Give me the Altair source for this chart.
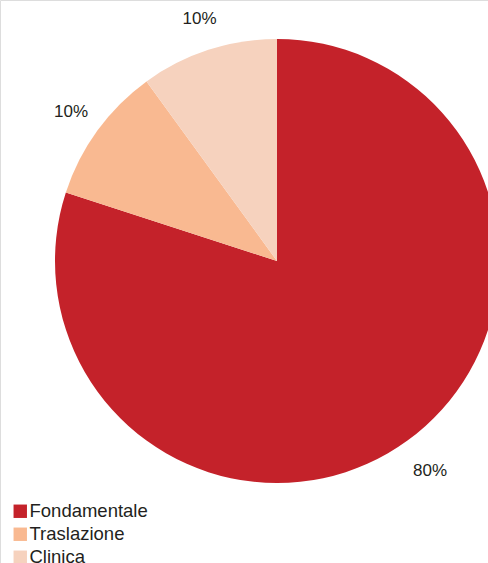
import altair as alt
import pandas as pd

categories = ["Fondamentale", "Traslazione", "Clinica"]
values = [80, 10, 10]
labels = ["80%", "10%", "10%"]
colors = ["#c4222a", "#f9b991", "#f6d2be"]

df = pd.DataFrame({"categoria": categories, "valore": values, "etichetta": labels,
                   "ordine": list(range(len(categories)))})

base = alt.Chart(df).encode(
    theta=alt.Theta("valore:Q", stack=True),
    order=alt.Order("ordine:Q"),
)

arc = base.mark_arc(outerRadius=222, stroke=None).encode(
    x=alt.value(277),
    y=alt.value(261),
    color=alt.Color(
        "categoria:N",
        sort=categories,
        scale=alt.Scale(domain=categories, range=colors),
        legend=alt.Legend(
            title=None,
            orient="none",
            legendX=11,
            legendY=502,
            padding=0,
            symbolType="square",
            symbolSize=180,
            symbolStrokeWidth=0,
            labelFont="Liberation Sans",
            labelFontSize=18.5,
            labelColor="#231f20",
            labelOffset=0,
            rowPadding=4,
        ),
    ),
)

text = base.mark_text(radius=257, font="Liberation Sans", fontSize=17,
                      color="#231f20", align="center", baseline="middle").encode(
    x=alt.value(279),
    y=alt.value(263),
    text="etichetta:N",
)

chart = alt.layer(arc, text).properties(
    width=488, height=563, padding=0,
    autosize=alt.AutoSizeParams(type="none"),
).configure_view(stroke=None).configure(background="white")

chart.save("out.html", embed_options={"renderer": "svg", "actions": False})
